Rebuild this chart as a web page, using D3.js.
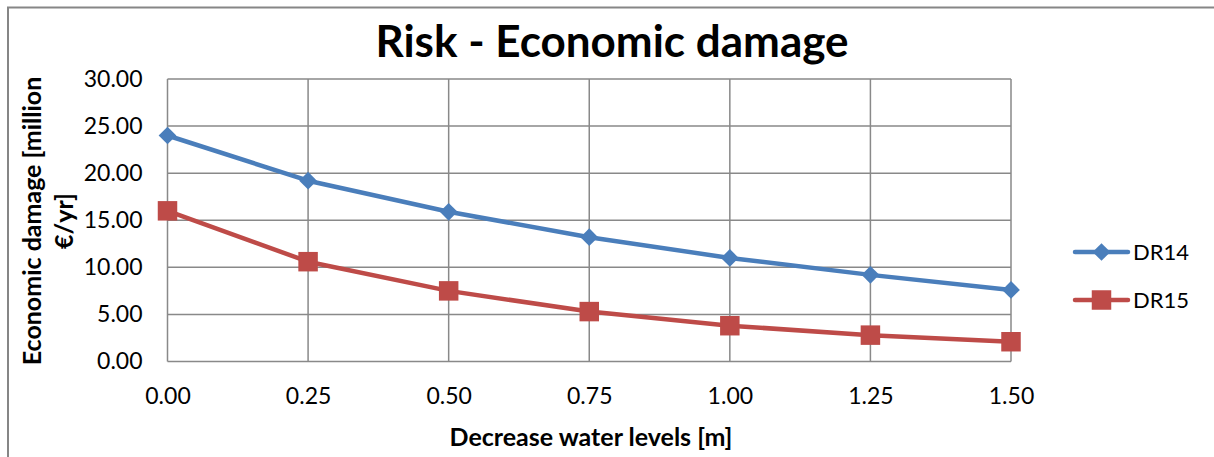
<!DOCTYPE html>
<html>
<head>
<meta charset="utf-8">
<script src="https://cdn.jsdelivr.net/npm/d3@7"></script>
<style>
  html, body { margin: 0; padding: 0; background: #fff; }
  svg { display: block; font-family: Lato, "Liberation Sans", sans-serif; }
</style>
</head>
<body>
<svg id="chart" width="1214" height="457"></svg>
<script>
// Decrease of water level [m] and the yearly risk for two dike rings
const levels = [0.00, 0.25, 0.50, 0.75, 1.00, 1.25, 1.50];
const dr14 = [24.0, 19.2, 15.9, 13.2, 11.0, 9.2, 7.6];
const dr15 = [16.0, 10.6, 7.5, 5.3, 3.8, 2.8, 2.1];
const seriesNames = ["DR14", "DR15"];
const yTicks = [0, 5, 10, 15, 20, 25, 30];
const xTicks = [0.00, 0.25, 0.50, 0.75, 1.00, 1.25, 1.50];

const colors = ["#4A7EBB", "#BE4B48"];
const svg = d3.select("#chart");

// outer chart frame
svg.append("rect")
  .attr("x", 8).attr("y", 7.5).attr("width", 1240).attr("height", 480)
  .attr("fill", "none").attr("stroke", "#868686").attr("stroke-width", 2);

const plot = { left: 167.5, right: 1011, top: 79, bottom: 361.5 };
const x = d3.scaleLinear().domain([0, 1.5]).range([plot.left, plot.right]);
const y = d3.scaleLinear().domain([0, 30]).range([plot.bottom, plot.top]);

// grid
const g = svg.append("g");
g.selectAll("line.h").data(yTicks).join("line")
  .attr("x1", plot.left).attr("x2", plot.right)
  .attr("y1", d => y(d)).attr("y2", d => y(d))
  .attr("stroke", "#898989").attr("stroke-width", 1.5);
g.selectAll("line.v").data(xTicks).join("line")
  .attr("y1", plot.top).attr("y2", plot.bottom)
  .attr("x1", d => x(d)).attr("x2", d => x(d))
  .attr("stroke", "#898989").attr("stroke-width", 1.5);

// axes (labels only, the grid forms the frame)
const yAxis = d3.axisLeft(y).tickValues(yTicks).tickFormat(d3.format(".2f")).tickSize(0).tickPadding(25);
svg.append("g").attr("transform", `translate(${plot.left},0)`).call(yAxis)
  .call(a => a.select(".domain").remove())
  .selectAll("text").attr("font-size", 23).attr("fill", "#000").attr("font-family", "Lato, sans-serif");

const xAxis = d3.axisBottom(x).tickValues(xTicks).tickFormat(d3.format(".2f")).tickSize(0).tickPadding(26);
svg.append("g").attr("transform", `translate(0,${plot.bottom})`).call(xAxis)
  .call(a => a.select(".domain").remove())
  .selectAll("text").attr("font-size", 23).attr("fill", "#000").attr("font-family", "Lato, sans-serif");

// title
svg.append("text").attr("x", 612).attr("y", 57).attr("text-anchor", "middle")
  .attr("font-size", 44).attr("font-weight", "bold").text("Risk - Economic damage");

// axis titles
svg.append("text").attr("x", 591).attr("y", 446).attr("text-anchor", "middle")
  .attr("font-size", 25).attr("font-weight", "bold").text("Decrease water levels [m]");
const yt = svg.append("text").attr("transform", "translate(41,221) rotate(-90)")
  .attr("text-anchor", "middle").attr("font-size", 25).attr("font-weight", "bold");
yt.append("tspan").attr("x", 0).attr("y", 0).text("Economic damage [million");
yt.append("tspan").attr("x", 0).attr("y", 32).text("€/yr]");

// series
const line = d3.line().x((d, i) => x(levels[i])).y(d => y(d));
const allSeries = [dr14, dr15];
const diamond = d3.symbol().type(d3.symbolDiamond2).size(200);
const square = d3.symbol().type(d3.symbolSquare).size(380);

allSeries.forEach((vals, k) => {
  svg.append("path").datum(vals).attr("d", line)
    .attr("fill", "none").attr("stroke", colors[k]).attr("stroke-width", 4.5)
    .attr("stroke-linejoin", "round");
  svg.selectAll(null).data(vals).join("path")
    .attr("transform", (d, i) => `translate(${x(levels[i])},${y(d)})`)
    .attr("d", k === 0 ? diamond : square)
    .attr("fill", colors[k]);
});

// legend
const legY = [252, 300];
seriesNames.forEach((name, k) => {
  const lg = svg.append("g").attr("transform", `translate(0,${legY[k]})`);
  lg.append("line").attr("x1", 1075).attr("x2", 1128).attr("y1", 0).attr("y2", 0)
    .attr("stroke", colors[k]).attr("stroke-width", 4.5).attr("stroke-linecap", "round");
  lg.append("path").attr("transform", "translate(1101.5,0)")
    .attr("d", k === 0 ? diamond : square).attr("fill", colors[k]);
  lg.append("text").attr("x", 1133).attr("y", 8).attr("font-size", 22).text(name);
});
</script>
</body>
</html>
